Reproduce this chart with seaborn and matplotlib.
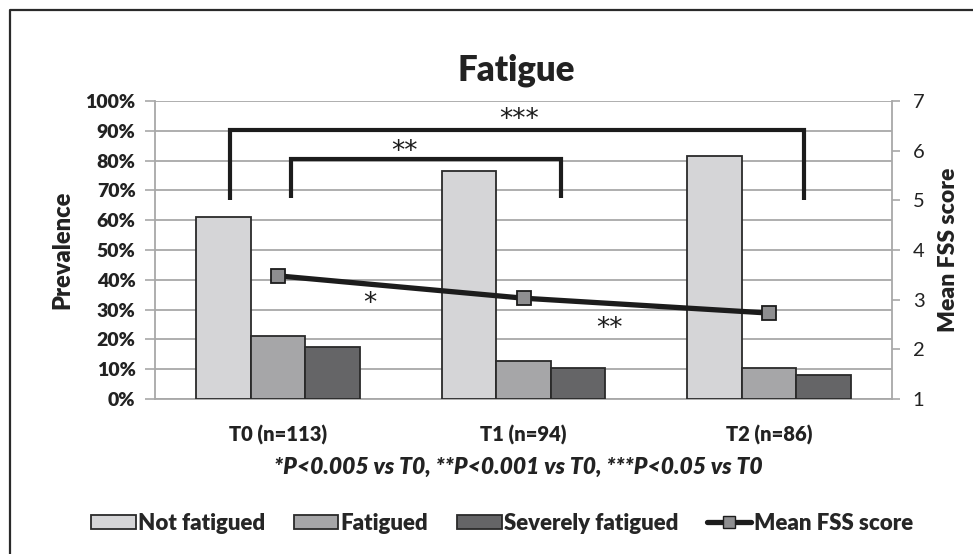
import matplotlib
matplotlib.use("Agg")
import matplotlib.pyplot as plt
import matplotlib.lines as mlines
import matplotlib.patches as mpatches
import pandas as pd
import seaborn as sns

# Data
categories = ["T0 (n=113)", "T1 (n=94)", "T2 (n=86)"]
groups = ["Not fatigued", "Fatigued", "Severely fatigued"]
not_fatigued = [0.61, 0.765, 0.815]
fatigued = [0.212, 0.127, 0.104]
severely_fatigued = [0.175, 0.104, 0.080]
mean_fss = [3.48, 3.03, 2.73]
pct_ticks = [0.0, 0.1, 0.2, 0.3, 0.4, 0.5, 0.6, 0.7, 0.8, 0.9, 1.0]
pct_labels = ["0%", "10%", "20%", "30%", "40%", "50%", "60%", "70%", "80%", "90%", "100%"]
fss_ticks = [1, 2, 3, 4, 5, 6, 7]

sns.set_theme(style="white")
plt.rcParams["font.family"] = ["Lato", "DejaVu Sans"]

df = pd.DataFrame({
    "time": categories * 3,
    "group": [g for g in groups for _ in categories],
    "value": not_fatigued + fatigued + severely_fatigued,
})

bar_colors = ["#d5d5d7", "#a6a6a8", "#656567"]
edge = "#2a2a2a"
grid_c = "#a8a8a8"
ink = "#1c1c1c"
txt = "#222222"
heavy = "heavy"

fig = plt.figure(figsize=(9.73, 5.54), dpi=100)
ax = fig.add_axes([155 / 973, 1 - 399 / 554, (892 - 155) / 973, (399 - 101) / 554])

sns.barplot(data=df, x="time", y="value", hue="group", hue_order=groups,
            order=categories, palette=bar_colors, width=0.667,
            edgecolor=edge, linewidth=1.3, saturation=1, ax=ax, zorder=3)
ax.get_legend().remove()

ax.set_ylim(0, 1)
ax.set_xlim(-0.5, 2.5)
ax.set_yticks(pct_ticks)
ax.set_yticklabels(pct_labels, fontsize=14, fontweight=heavy, color=txt)
ax.yaxis.grid(True, color=grid_c, linewidth=1.3, zorder=0)
ax.set_axisbelow(True)
ax.set_xticks([0, 1, 2])
ax.set_xticklabels(categories, fontsize=14.5, fontweight=heavy, color=txt)
ax.set_xticks([-0.5, 0.5, 1.5, 2.5], minor=True)
ax.tick_params(axis="x", which="major", length=0, pad=19)
ax.tick_params(axis="x", which="minor", length=8, width=1.2, color=grid_c, direction="out")
ax.tick_params(axis="y", length=7, width=1.2, color=grid_c, direction="out", pad=7, left=True)
ax.set_xlabel("")
ax.set_ylabel("Prevalence", fontsize=17, fontweight=heavy, color=txt, labelpad=9)
for side in ["top", "right"]:
    ax.spines[side].set_visible(False)
for side in ["left", "bottom"]:
    ax.spines[side].set_color(grid_c)
    ax.spines[side].set_linewidth(1.3)

# Mean FSS score on the secondary axis
ax2 = ax.twinx()
sns.lineplot(x=[0, 1, 2], y=mean_fss, ax=ax2, color=ink, linewidth=3.8,
             marker="s", markersize=10, markerfacecolor="#8e8e90",
             markeredgecolor=ink, markeredgewidth=1.3, zorder=5)
ax2.set_ylim(1, 7)
ax2.set_yticks(fss_ticks)
ax2.set_yticklabels([str(t) for t in fss_ticks], fontsize=14.5, color=txt)
ax2.tick_params(axis="y", length=6, width=1.2, color=grid_c, direction="out", pad=9, right=True)
ax2.set_ylabel("Mean FSS score", fontsize=16.5, fontweight=heavy, color=txt, labelpad=10)
for side in ["top", "left", "bottom"]:
    ax2.spines[side].set_visible(False)
ax2.spines["right"].set_color(grid_c)
ax2.spines["right"].set_linewidth(1.3)
ax2.set_xlim(-0.5, 2.5)

# Significance brackets
def bracket(x0, x1, top, foot):
    ax.plot([x0, x0, x1, x1], [foot, top, top, foot], color=ink, linewidth=3,
            solid_joinstyle="miter", solid_capstyle="butt", zorder=6, clip_on=False)

bracket(-0.195, 2.142, 0.904, 0.667)
bracket(0.053, 1.154, 0.806, 0.675)
star_kw = dict(ha="center", va="center", fontsize=19, color=ink, zorder=7,
               family=["DejaVu Sans"])
ax.text(0.984, 0.935, "***", **star_kw)
ax.text(0.516, 0.83, "**", **star_kw)
ax.text(0.374, 0.32, "*", **star_kw)
ax.text(1.35, 0.235, "**", **star_kw)

fig.text(516 / 973, 1 - 70 / 554, "Fatigue", ha="center", va="center",
         fontsize=25, fontweight=heavy, color=txt)
fig.text(518 / 973, 1 - 467 / 554, "*P<0.005 vs T0, **P<0.001 vs T0, ***P<0.05 vs T0",
         ha="center", va="center", fontsize=16.5, fontweight=heavy,
         fontstyle="italic", color=txt)

# Legend
handles = [mpatches.Patch(facecolor=c, edgecolor=edge, linewidth=1.3) for c in bar_colors]
handles.append(mlines.Line2D([], [], color=ink, linewidth=3.8, marker="s", markersize=9,
                             markerfacecolor="#8e8e90", markeredgecolor=ink))
labels = groups + ["Mean FSS score"]
fig.legend(handles, labels, loc="center", bbox_to_anchor=(502 / 973, 1 - 523 / 554),
           ncol=4, frameon=False, handlelength=2.0, handleheight=0.6,
           handletextpad=0.1, columnspacing=1.3,
           prop={"size": 16, "weight": heavy})

# Partial frame on the left and top edges
fig.add_artist(mlines.Line2D([10 / 973, 10 / 973, 1], [0, 1 - 10 / 554, 1 - 10 / 554],
                             transform=fig.transFigure, color="#2a2a2a", linewidth=1.6))

fig.savefig("out.png", dpi=100)
